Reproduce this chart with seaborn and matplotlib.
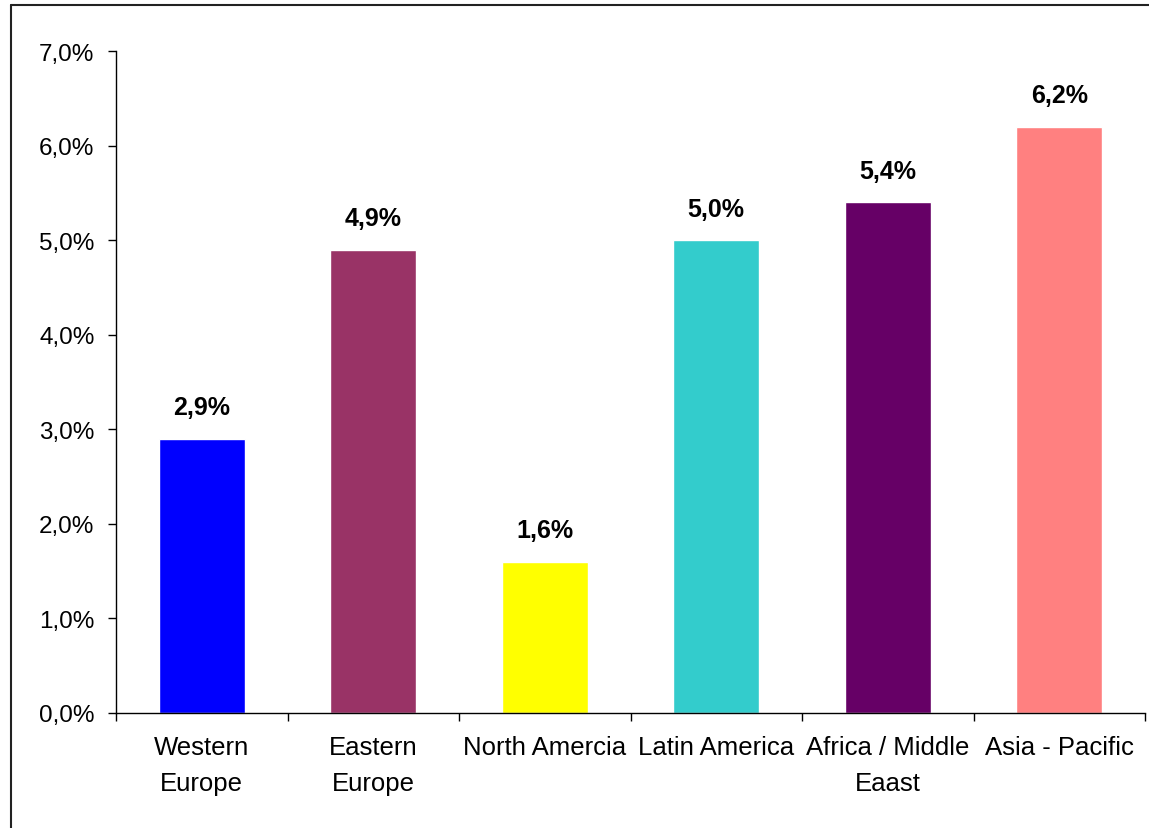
import matplotlib
matplotlib.use("Agg")
import matplotlib.pyplot as plt
from matplotlib.lines import Line2D
from matplotlib.ticker import FixedLocator, FuncFormatter
import seaborn as sns
import pandas as pd

regions = ["Western\nEurope", "Eastern\nEurope", "North Amercia",
           "Latin America", "Africa / Middle\nEaast", "Asia - Pacific"]
growth = [2.9, 4.9, 1.6, 5.0, 5.4, 6.2]
colors = ["#0000FF", "#993366", "#FFFF00", "#33CCCC", "#660066", "#FF8080"]
y_ticks = [0, 1, 2, 3, 4, 5, 6, 7]


def pct(v):
    return f"{v:.1f}%".replace(".", ",")


sns.set_theme(style="white")
plt.rcParams["font.family"] = ["Liberation Sans", "DejaVu Sans"]
plt.rcParams["text.color"] = "black"
plt.rcParams["xtick.color"] = "black"
plt.rcParams["ytick.color"] = "black"

df = pd.DataFrame({"region": regions, "growth": growth})

fig = plt.figure(figsize=(11.49, 8.29), dpi=100, facecolor="white")
ax = fig.add_axes([116 / 1149, 115 / 829, 1029 / 1149, 662 / 829])

sns.barplot(data=df, x="region", y="growth", hue="region", palette=colors,
            width=0.5, saturation=1, legend=False, ax=ax)

for i, v in enumerate(growth):
    ax.annotate(pct(v), (i, v), xytext=(0, 14), textcoords="offset points",
                ha="center", va="bottom", fontsize=18, fontweight="bold",
                color="black")

ax.set_ylim(0, 7)
ax.set_xlim(-0.5, len(regions) - 0.5)
ax.yaxis.set_major_locator(FixedLocator(y_ticks))
ax.yaxis.set_major_formatter(FuncFormatter(lambda v, _: pct(v)))
ax.xaxis.set_minor_locator(FixedLocator([i - 0.5 for i in range(len(regions) + 1)]))

ax.tick_params(axis="y", which="major", direction="out", length=6, width=1,
               color="black", labelcolor="black", left=True, labelsize=17.5, pad=9.5)
ax.tick_params(axis="x", which="major", length=0, labelcolor="black",
               labelsize=18.5, pad=16)
ax.tick_params(axis="x", which="minor", direction="out", length=6, width=1,
               color="black", bottom=True)
for lbl in ax.get_xticklabels():
    lbl.set_linespacing(1.6)

ax.set_xlabel("")
ax.set_ylabel("")
for side in ["top", "right"]:
    ax.spines[side].set_visible(False)
for side in ["left", "bottom"]:
    ax.spines[side].set_color("black")
    ax.spines[side].set_linewidth(1)

# chart frame (only left and top edges visible in the crop)
fig.add_artist(Line2D([11 / 1149, 11 / 1149], [0, 1 - 6 / 829], transform=fig.transFigure,
                      color="#222222", linewidth=1.5))
fig.add_artist(Line2D([11 / 1149, 1], [1 - 6 / 829, 1 - 6 / 829], transform=fig.transFigure,
                      color="#222222", linewidth=1.5))

fig.savefig("out.png", dpi=100, facecolor="white")
